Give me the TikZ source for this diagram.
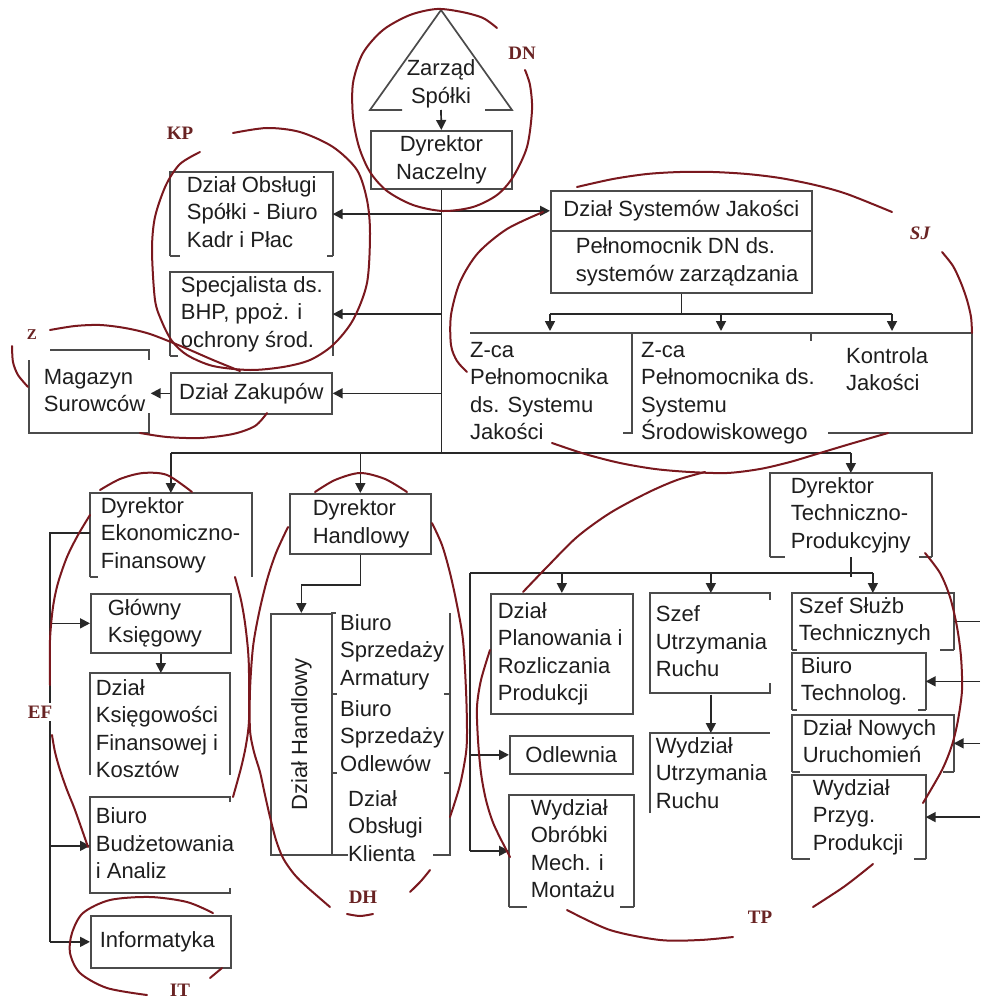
\documentclass[tikz,border=0pt]{standalone}
\usepackage{fontspec}
\setmainfont{Liberation Sans}
\newfontfamily\lblfont{Liberation Serif}
\usepackage{graphicx}
\usetikzlibrary{arrows.meta}
\definecolor{tc}{RGB}{30,30,30}
\definecolor{bc}{RGB}{75,75,75}
\definecolor{cc}{RGB}{40,40,40}
\definecolor{rc}{RGB}{122,24,30}
\definecolor{lc}{RGB}{105,35,35}
\newcommand\bx[8][]{%
  \pgfmathsetmacro\bxw{#5-#3}\pgfmathsetmacro\bxh{#6-#4}%
  \node[box,minimum width=\bxw pt,minimum height=\bxh pt,#1] (#2) at (#3,#4)
    {\makebox[\bxw pt][l]{\hspace*{#7pt}\begin{tabular}{@{}l@{}}#8\end{tabular}}};}
\newcommand\bc[7][]{%
  \pgfmathsetmacro\bxw{#5-#3}\pgfmathsetmacro\bxh{#6-#4}%
  \node[box,align=center,minimum width=\bxw pt,minimum height=\bxh pt,#1] (#2) at (#3,#4) {#7};}
\newcommand\ob[3]{%
  \draw[bl] (#1.south west) -- (#1.north west) -- (#1.north east) -- (#1.south east);
  \draw[bl] (#1.south west) -- ++(#2,0);
  \draw[bl] (#1.south east) -- ++(-#3,0);}
\begin{document}
\begin{tikzpicture}[x=1pt,y=-1pt,
  font=\fontsize{22}{27.5}\selectfont,
  box/.style={draw=bc,line width=1.7pt,inner sep=0pt,anchor=north west,text=tc,rectangle},
  bl/.style={draw=bc,line width=1.7pt},
  con/.style={draw=cc,line width=1.7pt},
  arr/.style={con,-{Triangle[length=10pt,width=10pt]}},
  txt/.style={inner sep=0pt,align=left,text=tc,anchor=north west},
  redc/.style={draw=rc,line width=2pt,line cap=round},
  lbl/.style={text=lc,font=\lblfont\bfseries\fontsize{19}{20}\selectfont,inner sep=1pt}]
\fill[white] (0,0) rectangle (980,1003);
\useasboundingbox (0,0) rectangle (980,1003);

% Zarzad triangle
\draw[bl] (402,110) -- (370,110) -- (441,10) -- (512,110) -- (485,110);
\node[txt,anchor=center,align=center] (zs) at (441,84) {Zarząd\\Spółki};
\coordinate (zsb) at (441,110);

% boxes
\bc{dn}{370}{130}{511}{188}{Dyrektor\\Naczelny}
\bx[draw=none]{kp1}{170}{172}{331}{250}{16}{Dział Obsługi\\Spółki - Biuro\\Kadr i Płac}
\ob{kp1}{10}{6}
\bx[draw=none]{kp2}{170}{272}{331}{350}{10}{Specjalista ds.\\BHP, ppoż. i\\ochrony środ.}
\ob{kp2}{8}{0}
\bc{zak}{170}{372}{331}{413}{Dział Zakupów}
\bx[draw=none]{mag}{29}{350}{149}{433}{14}{Magazyn\\Surowców}
\draw[bl] (50,350) -- (149,350) -- (149,360);
\draw[bl] (149,413) -- (149,433) -- (29,433) -- (29,360);

\bc{sj1}{550}{190}{811}{230}{Dział Systemów Jakości}
\bx{sj2}{550}{230}{811}{292}{25}{Pełnomocnik DN ds.\\systemów zarządzania}
\draw[bl] (470,333) -- (972,333) -- (972,433) -- (828,433);
\draw[bl] (632,333) -- (632,433) -- (623,433);
\draw[bl] (811,333) -- (811,341);
\node[txt] (zca1) at (470,342) {Z-ca\\Pełnomocnika\\ds. Systemu\\Jakości};
\node[txt] (zca2) at (641,342) {Z-ca\\Pełnomocnika ds.\\Systemu\\Środowiskowego};
\node[txt] (kj) at (846,347) {Kontrola\\Jakości};

\bx[draw=none]{tp}{770}{473}{930}{553}{20}{Dyrektor\\Techniczno-\\Produkcyjny}
\ob{tp}{15}{13}
\bx[draw=none]{ef}{90}{493}{250}{573}{10}{Dyrektor\\Ekonomiczno-\\Finansowy}
\ob{ef}{8}{0}
\bx{glow}{90}{593}{230}{652}{17}{Główny\\Księgowy}
\bx[draw=none]{ksieg}{90}{673}{230}{787}{5}{Dział\\Księgowości\\Finansowej i\\Kosztów}
\draw[bl] (90,775) -- (90,673) -- (230,673) -- (230,775);
\bx[draw=none]{bud}{90}{797}{230}{893}{5}{Biuro\\Budżetowania\\i Analiz}
\draw[bl] (230,802) -- (230,797) -- (90,797) -- (90,893) -- (230,893) -- (230,888);
\bx{inf}{90}{915}{230}{967}{9}{Informatyka}

\bx{dh}{289}{493}{430}{553}{23}{Dyrektor\\Handlowy}
\node[box,align=center,minimum width=61pt,minimum height=241pt] (dzh) at (270,613) {\rotatebox{90}{Dział Handlowy}};
\draw[bl] (331,613) -- (336,613);
\draw[bl] (450,613) -- (450,855) -- (433,855);
\draw[bl] (331,855) -- (348,855);
\draw[bl] (331,694) -- (337,694) (444,694) -- (450,694);
\draw[bl] (331,773) -- (337,773) (444,773) -- (450,773);
\node[txt] (bsa) at (340,614) {Biuro\\Sprzedaży\\Armatury};
\node[txt] (bso) at (340,700) {Biuro\\Sprzedaży\\Odlewów};
\node[txt] (dok) at (348,790) {Dział\\Obsługi\\Klienta};

\bx{plan}{490}{593}{632}{713}{7}{Dział\\Planowania i\\Rozliczania\\Produkcji}
\bc{odl}{509}{735}{632}{773}{Odlewnia}
\bx[draw=none]{wob}{509}{795}{632}{897}{21}{Wydział\\Obróbki\\Mech. i\\Montażu}
\ob{wob}{18}{14}
\bx[draw=none]{szu}{650}{593}{770}{693}{5}{Szef\\Utrzymania\\Ruchu}
\draw[bl] (770,600) -- (770,593) -- (650,593) -- (650,693) -- (770,693) -- (770,683);
\bx[draw=none]{wur}{650}{733}{770}{813}{5}{Wydział\\Utrzymania\\Ruchu}
\draw[bl] (650,813) -- (650,733) -- (770,733);
\bx[draw=none]{ssz}{792}{593}{952}{647}{6}{Szef Służb\\Technicznych}
\ob{ssz}{5}{14}
\bx[draw=none]{bt}{792}{653}{924}{707}{8}{Biuro\\Technolog.}
\ob{bt}{5}{8}
\bx[draw=none]{dnu}{792}{715}{952}{767}{10}{Dział Nowych\\Uruchomień}
\ob{dnu}{8}{11}
\bx[draw=none]{wpp}{792}{775}{924}{855}{20}{Wydział\\Przyg.\\Produkcji}
\ob{wpp}{18}{12}

% connectors
\draw[arr] (zsb) -- (dn.north);
\coordinate (j) at (441,453);
\draw[con] (dn.south) -- (dn.south |- j);
\draw[con] (ef.north |- j) -- (tp.north |- j);
\draw[arr] (dn.south |- kp1.east) -- (kp1.east);
\draw[arr] (dn.south |- sj1.west) -- (sj1.west);
\draw[arr] (dn.south |- kp2.east) -- (kp2.east);
\draw[arr] (dn.south |- zak.east) -- (zak.east);
\draw[arr] (zak.west) -- (zak.west -| mag.east);
\draw[arr] (ef.north |- j) -- (ef.north);
\draw[arr] (dh.north |- j) -- (dh.north);
\draw[arr] (tp.north |- j) -- (tp.north);
\coordinate (efl) at (50,533);
\draw[con] (ef.west |- efl) -- (efl) -- (efl |- inf.west);
\draw[arr] (efl |- glow.west) -- (glow.west);
\draw[arr] (efl |- bud.west) -- (bud.west);
\draw[arr] (efl |- inf.west) -- (inf.west);
\draw[arr] (glow.south) -- (ksieg.north);
\draw[arr] (dh.south) -- ++(0,30) -| (dzh.north);
\draw[con] (sj2.south) -- ++(0,20) coordinate (sjh);
\coordinate (a1) at (550,331);
\coordinate (a2) at (721,331);
\coordinate (a3) at (892,331);
\draw[con] (a1 |- sjh) -- (a3 |- sjh);
\draw[arr] (a1 |- sjh) -- (a1);
\draw[arr] (a2 |- sjh) -- (a2);
\draw[arr] (a3 |- sjh) -- (a3);
\draw[con] (tp.south) -- ++(0,20) coordinate (tph);
\coordinate (tpl) at (470,573);
\draw[con] (tpl) -- (ssz.north |- tpl);
\draw[arr] (plan.north |- tpl) -- (plan.north);
\draw[arr] (szu.north |- tpl) -- (szu.north);
\draw[arr] (ssz.north |- tpl) -- (ssz.north);
\draw[con] (tpl) -- (tpl |- wob.west);
\draw[arr] (tpl |- odl.west) -- (odl.west);
\draw[arr] (tpl |- wob.west) -- (wob.west);
\draw[arr] (szu.south) -- (wur.north);
\coordinate (re) at (980,0);
\draw[con] (ssz.east) -- (ssz.east -| re);
\draw[arr] (bt.east -| re) -- (bt.east);
\draw[arr] (dnu.east -| re) -- (dnu.east);
\draw[arr] (wpp.east -| re) -- (wpp.east);

% red group outlines
\draw[redc] plot[smooth] coordinates {(525,70) (530,85) (532,110) (527,147) (513,177) (497,195) (473,207) (443,211) (413,205) (387,191) (370,172) (359,147) (353,117) (353,83) (363,53) (383,30) (410,15) (437,9) (462,12) (483,18) (497,28)};
\draw[redc] plot[smooth] coordinates {(233,133) (267,128) (300,132) (333,147) (357,170) (367,200) (370,233) (367,283) (353,320) (333,345) (310,360) (283,367) (250,370) (213,366) (187,355) (172,341) (162,322) (155,300) (152,250) (155,217) (166,185) (180,164) (200,152)};
\draw[redc] plot[smooth] coordinates {(50,330) (75,326) (100,325) (125,328) (150,334) (183,347) (213,360) (240,371)};
\draw[redc] plot[smooth] coordinates {(267,413) (255,426) (233,434) (200,438) (167,437) (140,433)};
\draw[redc] plot[smooth] coordinates {(12,346) (13,362) (18,375) (28,387)};
\draw[redc] plot[smooth] coordinates {(467,372) (457,361) (451,345) (451,315) (460,282) (478,253) (507,229) (543,212)};
\draw[redc] plot[smooth] coordinates {(577,187) (613,179) (647,174) (680,172) (713,172) (747,174) (780,178) (815,185) (847,194) (892,212)};
\draw[redc] plot[smooth] coordinates {(942,252) (953,266) (961,283) (967,300) (971,317) (972,333)};
\draw[redc] plot[smooth] coordinates {(552,443) (585,454) (620,463) (655,469) (690,472) (727,473) (760,469) (790,462) (820,453) (850,444) (888,433)};
\draw[redc] plot[smooth] coordinates {(705,472) (677,480) (647,493) (610,513) (577,537) (547,567) (523,592)};
\draw[redc] plot[smooth] coordinates {(490,650) (481,680) (477,707) (478,740) (481,773) (486,800) (494,825) (510,857)};
\draw[redc] plot[smooth] coordinates {(567,910) (610,930) (660,940) (700,940) (733,937)};
\draw[redc] plot[smooth] coordinates {(873,864) (845,886) (813,907)};
\draw[redc] plot[smooth] coordinates {(925,553) (940,573) (950,597) (957,627) (961,657) (962,690) (958,720) (952,745) (942,770) (923,803)};
\draw[redc] plot[smooth] coordinates {(100,490) (120,479) (143,473) (167,475) (192,492)};
\draw[redc] plot[smooth] coordinates {(90,515) (78,535) (67,557) (58,583) (53,607) (50,640) (50,685)};
\draw[redc] plot[smooth] coordinates {(52,735) (55,752) (60,770) (67,790) (75,810) (88,847)};
\draw[redc] plot[smooth] coordinates {(235,577) (241,600) (245,623) (248,650) (249,673) (249,720) (246,745) (241,768) (233,797)};
\draw[redc] plot[smooth] coordinates {(315,492) (335,480) (360,473) (385,479) (407,492)};
\draw[redc] plot[smooth] coordinates {(288,527) (276,553) (267,580) (259,613) (253,647) (250,690) (250,730) (254,752) (260,772) (265,795) (270,817) (276,840) (283,858) (294,874) (307,887) (330,907)};
\draw[redc] plot[smooth] coordinates {(347,914) (360,916) (373,914)};
\draw[redc] plot[smooth] coordinates {(410,892) (421,881) (430,870)};
\draw[redc] plot[smooth] coordinates {(450,817) (460,785) (466,753) (467,730) (466,690) (463,640) (457,605) (450,573) (442,545) (432,523)};
\draw[redc] plot[smooth] coordinates {(213,913) (187,902) (150,897) (110,900) (83,913) (72,933) (70,953) (80,973) (107,988) (147,995)};
\draw[redc] plot[smooth] coordinates {(210,978) (222,968)};

% group labels
\node[lbl] (lDN) at (522,53) {DN};
\node[lbl] (lKP) at (180,133) {KP};
\node[lbl,font=\lblfont\bfseries\itshape\fontsize{19}{20}\selectfont] (lSJ) at (920,233) {SJ};
\node[lbl,font=\lblfont\bfseries\fontsize{15}{16}\selectfont] (lZ) at (32,335) {Z};
\node[lbl,fill=white,inner sep=3pt] (lEF) at (40,712) {EF};
\node[lbl] (lDH) at (363,897) {DH};
\node[lbl] (lTP) at (760,917) {TP};
\node[lbl] (lIT) at (180,990) {IT};
\end{tikzpicture}
\end{document}
